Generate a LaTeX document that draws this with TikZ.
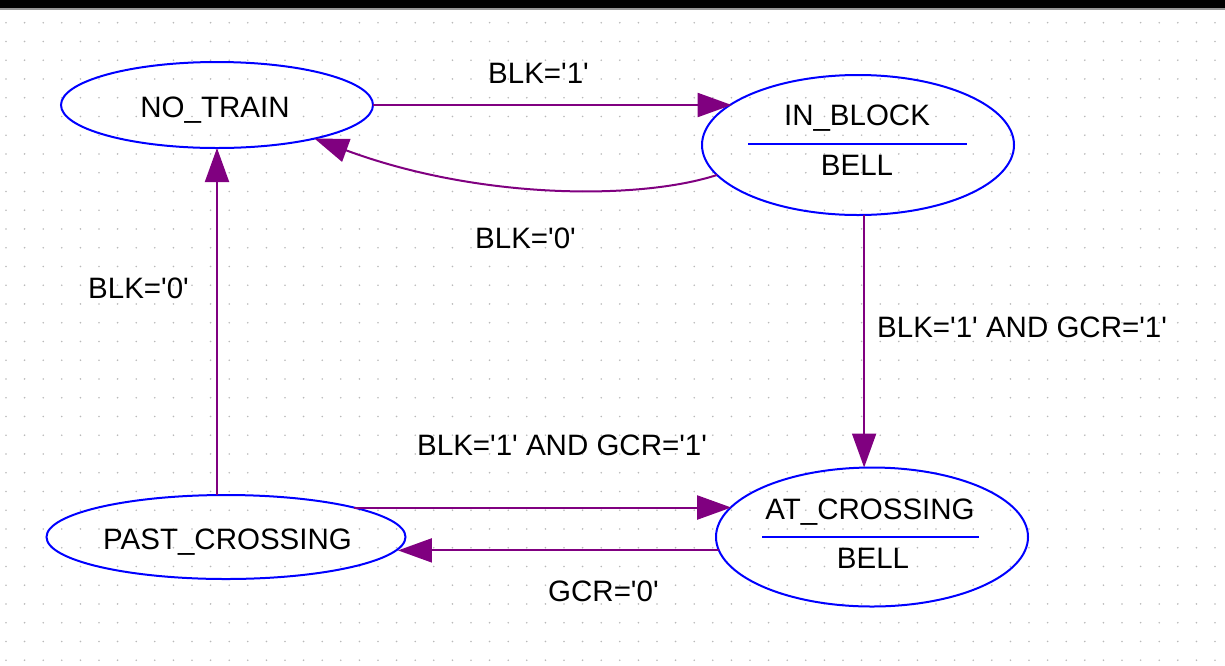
\documentclass[tikz,border=0pt]{standalone}
\usepackage{fontspec}
\setmainfont{Liberation Sans}[Ligatures=TeXOff]
\usetikzlibrary{shapes.geometric,arrows.meta}
\definecolor{stblue}{RGB}{0,0,255}
\definecolor{trpurple}{RGB}{128,0,128}
\definecolor{dotc}{RGB}{185,185,185}
\definecolor{barg}{RGB}{150,150,150}
\tikzset{
  stbox/.style={shape=ellipse, draw=stblue, line width=2pt, inner sep=0pt, outer sep=0pt},
  conn/.style={draw=trpurple, line width=2pt, -{Triangle[length=34pt,width=24pt]}, fill=none},
  lbl/.style={inner sep=0pt, anchor=base west, font=\fontsize{29.5}{32}\selectfont},
  sttxt/.style={inner sep=0pt, anchor=base, font=\fontsize{29.5}{32}\selectfont},
  divider/.style={draw=stblue, line width=2pt}
}
\begin{document}
\begin{tikzpicture}[x=1pt,y=-1pt]
\useasboundingbox (0,0) rectangle (1225,665);
% grid dots
\foreach \i in {0,...,65}{
  \foreach \j in {0,...,34}{
    \fill[dotc] ({6+\i*18.6},{22.7+\j*18.75}) circle (0.9pt);
  }
}
% top bar
\fill[black] (0,0) rectangle (1225,8);
\fill[barg] (0,8) rectangle (1225,10);

% states
\node[stbox, minimum width=312pt, minimum height=86pt] (notrain) at (217,105) {};
\node[stbox, minimum width=312pt, minimum height=140pt] (inblock) at (858,145) {};
\node[stbox, minimum width=312pt, minimum height=139pt] (atcross) at (872,537) {};
\node[stbox, minimum width=359pt, minimum height=84pt] (pastcross) at (226,537) {};

\node[sttxt] (tnotrain) at (215,117) {NO\_TRAIN};
\node[sttxt] (tinblock) at (857,125) {IN\_BLOCK};
\node[sttxt] (tbell1) at (857,175) {BELL};
\node[sttxt] (tatcross) at (870,519) {AT\_CROSSING};
\node[sttxt] (tbell2) at (873,568) {BELL};
\node[sttxt] (tpastcross) at (227.5,549) {PAST\_CROSSING};

\draw[divider] (748,144) -- (967,144);
\draw[divider] (762,537) -- (979,537);

% transitions
\draw[conn] (notrain.east) -- (inblock.162.6 |- notrain.east);
\draw[conn] (inblock.192.8) .. controls (640,200) and (480,200) .. (notrain.-19.3);
\draw[conn] (inblock.-85) -- (inblock.-85 |- atcross.north);
\draw[conn] (notrain.south |- pastcross.north) -- (notrain.south);
\draw[conn] (pastcross.13) -- (atcross.168 |- pastcross.13);
\draw[conn] (atcross.185) -- (pastcross.-4.3 |- atcross.185);

% labels
\node[lbl] (l1) at (488,83) {BLK='1'};
\node[lbl] (l2) at (475,248) {BLK='0'};
\node[lbl] (l3) at (88,298) {BLK='0'};
\node[lbl] (l4) at (877,337) {BLK='1' AND GCR='1'};
\node[lbl] (l5) at (417,455) {BLK='1' AND GCR='1'};
\node[lbl] (l6) at (548,601) {GCR='0'};
\end{tikzpicture}
\end{document}
